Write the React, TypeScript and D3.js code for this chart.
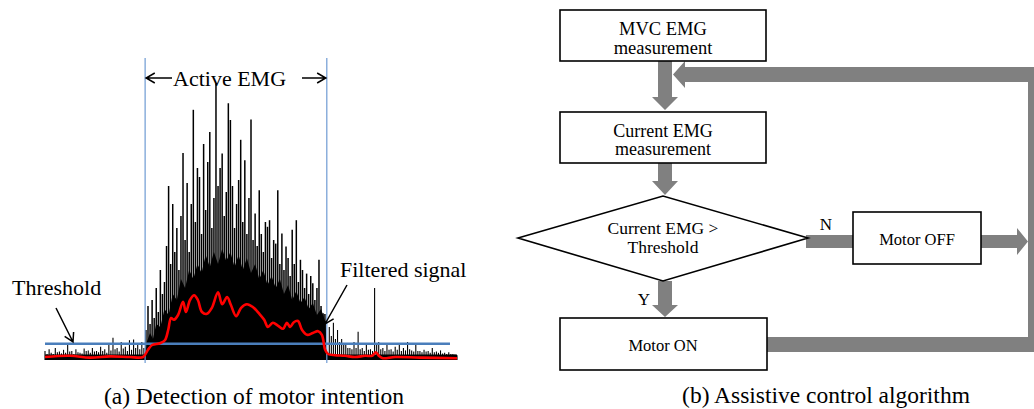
import React, { useEffect, useRef } from 'react';
import * as d3 from 'd3';

// ---------- (a) EMG recording, amplitude in arbitrary units ----------
const threshold = 0.27;
const activeOnset = 2.43; // s
const activeOffset = 6.84; // s
const noiseFloor = 0.09;

// rest EMG before contraction, t = 0.0 .. 2.4 s every 0.05 s
const restBefore = [0.15, 0.1, 0.18, 0.12, 0.1, 0.2, 0.13, 0.14, 0.11, 0.17, 0.12, 0.25, 0.14, 0.15,
  0.1, 0.18, 0.13, 0.12, 0.11, 0.19, 0.15, 0.16, 0.12, 0.2, 0.14, 0.15, 0.13, 0.22, 0.15, 0.18, 0.12,
  0.25, 0.16, 0.37, 0.18, 0.2, 0.14, 0.3, 0.19, 0.22, 0.15, 0.33, 0.17, 0.34, 0.2, 0.25, 0.18, 0.3, 0.2];
const restBeforeStart = 0;
const restStep = 0.05;

// raw EMG peaks during contraction, t = 2.45 .. 6.80 s every 0.05 s
const activePeaks = [0.5, 0.9, 0.6, 1.0, 0.7, 1.2, 0.8, 1.5, 1.1, 1.3, 1.9, 2.9, 1.6, 2.6, 1.8, 2.2,
  1.5, 2.4, 3.45, 2.0, 2.95, 1.8, 2.6, 4.17, 2.3, 3.2, 3.05, 2.1, 3.6, 2.5, 3.3, 3.8, 2.2, 2.7, 4.61,
  2.9, 3.2, 3.44, 2.4, 2.8, 4.28, 4.0, 2.9, 2.2, 2.6, 3.0, 3.67, 2.3, 3.33, 2.1, 2.7, 4.01, 2.0, 2.44,
  1.9, 2.83, 2.1, 1.8, 2.3, 2.22, 2.33, 1.7, 2.0, 1.94, 2.83, 1.6, 2.11, 1.5, 1.89, 1.7, 1.4, 2.17,
  1.6, 2.33, 1.3, 1.67, 1.5, 1.2, 1.44, 1.1, 1.4, 1.28, 1.0, 1.2, 1.67, 0.9, 0.78, 0.6];
const activeStart = 2.45;
const activeStep = 0.05;

// dense part of the raw signal during contraction [t, amp]
const activeCore: [number, number][] = [[2.43, 0], [2.47, 0.3], [2.55, 0.45], [2.62, 0.35], [2.7, 0.6],
  [2.8, 0.55], [2.9, 0.85], [3.0, 0.75], [3.1, 1.1], [3.2, 1.0], [3.3, 1.35], [3.4, 1.2], [3.5, 1.5],
  [3.6, 1.35], [3.7, 1.6], [3.8, 1.45], [3.9, 1.75], [4.0, 1.55], [4.1, 1.8], [4.2, 1.6], [4.3, 1.85],
  [4.4, 1.65], [4.5, 1.8], [4.6, 1.55], [4.7, 1.75], [4.8, 1.5], [4.9, 1.7], [5.0, 1.45], [5.1, 1.6],
  [5.2, 1.35], [5.3, 1.5], [5.4, 1.25], [5.5, 1.4], [5.6, 1.2], [5.7, 1.35], [5.8, 1.1], [5.9, 1.25],
  [6.0, 1.0], [6.1, 1.15], [6.2, 0.95], [6.3, 1.05], [6.4, 0.85], [6.5, 0.95], [6.6, 0.75], [6.7, 0.85],
  [6.8, 0.65], [6.84, 0]];

// rest EMG after contraction, t = 6.9 .. 10.0 s every 0.05 s
const restAfter = [0.55, 0.4, 0.62, 0.35, 0.5, 0.3, 0.35, 0.25, 0.25, 0.2, 0.2, 0.18, 0.3, 0.2, 0.47,
  0.18, 0.2, 0.15, 0.25, 0.17, 0.18, 0.15, 1.2, 0.25, 0.3, 0.18, 0.2, 0.15, 0.25, 0.17, 0.18, 0.14,
  0.22, 0.17, 0.28, 0.15, 0.2, 0.16, 0.3, 0.18, 0.16, 0.14, 0.25, 0.15, 0.15, 0.13, 0.17, 0.14, 0.15,
  0.12, 0.2, 0.13, 0.14, 0.12, 0.16, 0.11, 0.12, 0.1, 0.13, 0.1, 0.1, 0.09, 0.08];
const restAfterStart = 6.9;

// low-pass filtered signal [t, amp]
const filtered: [number, number][] = [[0, 0.05], [0.61, 0.07], [1.09, 0.04], [1.58, 0.06], [2.06, 0.05],
  [2.38, 0.05], [2.5, 0.17], [2.6, 0.25], [2.79, 0.28], [2.91, 0.33], [2.99, 0.5], [3.06, 0.7],
  [3.13, 0.67], [3.23, 0.75], [3.35, 0.97], [3.42, 0.8], [3.52, 1.0], [3.62, 1.08], [3.71, 1.0],
  [3.81, 0.8], [3.93, 0.77], [4.05, 0.87], [4.2, 1.13], [4.3, 0.93], [4.42, 1.05], [4.51, 0.92],
  [4.64, 0.73], [4.76, 0.87], [4.9, 0.93], [5.05, 0.88], [5.19, 0.78], [5.32, 0.67], [5.41, 0.55],
  [5.53, 0.62], [5.66, 0.57], [5.78, 0.52], [5.87, 0.62], [5.95, 0.55], [6.04, 0.63], [6.14, 0.65],
  [6.24, 0.5], [6.36, 0.42], [6.5, 0.45], [6.63, 0.48], [6.72, 0.42], [6.8, 0.17], [6.87, 0.1],
  [7.04, 0.08], [7.28, 0.07], [7.52, 0.05], [7.77, 0.07], [7.94, 0.07], [8.03, 0.13], [8.1, 0.07],
  [8.2, 0.03], [8.5, 0.05], [9.1, 0.04], [10, 0.03]];

// ---------- (b) flow chart labels ----------
const mvcLabel = ['MVC EMG', 'measurement'];
const currentLabel = ['Current EMG', 'measurement'];
const decisionLabel = ['Current EMG >', 'Threshold'];
const offLabel = 'Motor OFF';
const onLabel = 'Motor ON';
const captions = ['(a) Detection of motor intention', '(b) Assistive control algorithm'];

const SERIF = "'Liberation Serif', 'Times New Roman', serif";

export default function App() {
  const ref = useRef<SVGSVGElement>(null);

  useEffect(() => {
    const svg = d3.select(ref.current);
    svg.selectAll('*').remove();

    //----------- (a) signal panel -----------//
    const x = d3.scaleLinear().domain([0, 10]).range([45, 457]);
    const y = d3.scaleLinear().domain([0, 5]).range([360, 60]);
    const g = svg.append('g');

    // noise band under everything
    g.append('path')
      .datum([[0, noiseFloor], [10, noiseFloor]] as [number, number][])
      .attr('d', d3.area<[number, number]>().x(d => x(d[0])).y0(y(0)).y1(d => y(d[1])))
      .attr('fill', '#000');

    const rest = [
      ...restBefore.map((v, i) => [restBeforeStart + i * restStep, v]),
      ...restAfter.map((v, i) => [restAfterStart + i * restStep, v]),
    ];
    g.selectAll('line.rest')
      .data(rest)
      .join('line')
      .attr('class', 'rest')
      .attr('x1', d => x(d[0])).attr('x2', d => x(d[0]))
      .attr('y1', y(0)).attr('y2', d => y(d[1]))
      .attr('stroke', '#000')
      .attr('stroke-width', 1.1);

    g.selectAll('line.spike')
      .data(activePeaks.map((v, i) => [activeStart + i * activeStep, v]))
      .join('line')
      .attr('class', 'spike')
      .attr('x1', d => x(d[0])).attr('x2', d => x(d[0]))
      .attr('y1', y(0)).attr('y2', d => y(d[1]))
      .attr('stroke', '#000')
      .attr('stroke-width', 1.5);

    g.append('path')
      .datum(activeCore)
      .attr('d', d3.area<[number, number]>().x(d => x(d[0])).y0(y(0)).y1(d => y(d[1])))
      .attr('fill', '#000');

    // active window markers
    g.selectAll('line.marker')
      .data([activeOnset, activeOffset])
      .join('line')
      .attr('class', 'marker')
      .attr('x1', d => x(d)).attr('x2', d => x(d))
      .attr('y1', 58).attr('y2', 363)
      .attr('stroke', '#6E9BD3')
      .attr('stroke-width', 1.2);

    // threshold
    g.append('line')
      .attr('x1', x(0)).attr('x2', x(9.83))
      .attr('y1', y(threshold)).attr('y2', y(threshold))
      .attr('stroke', '#4A7EBB')
      .attr('stroke-width', 2.6);

    // filtered signal
    g.append('path')
      .datum(filtered)
      .attr('d', d3.line<[number, number]>().x(d => x(d[0])).y(d => y(d[1])).curve(d3.curveCatmullRom))
      .attr('fill', 'none')
      .attr('stroke', '#FF0000')
      .attr('stroke-width', 2.6);

    // open arrows
    const arrow = (x1: number, y1: number, x2: number, y2: number) => {
      const a = Math.atan2(y2 - y1, x2 - x1);
      const len = 10, sp = Math.PI / 6;
      g.append('path')
        .attr('d', `M${x1},${y1}L${x2},${y2}M${x2 - len * Math.cos(a - sp)},${y2 - len * Math.sin(a - sp)}L${x2},${y2}L${x2 - len * Math.cos(a + sp)},${y2 - len * Math.sin(a + sp)}`)
        .attr('fill', 'none')
        .attr('stroke', '#000')
        .attr('stroke-width', 1.5);
    };
    arrow(172, 78, x(activeOnset) + 1, 78);
    arrow(302, 78, x(activeOffset) - 1, 78);
    arrow(56, 308, 73, 342);
    arrow(347, 285, 325, 324);

    const label = (t: string, lx: number, ly: number, size: number, anchor = 'start') =>
      svg.append('text')
        .attr('x', lx).attr('y', ly)
        .attr('font-family', SERIF)
        .attr('font-size', size)
        .attr('text-anchor', anchor)
        .attr('fill', '#000')
        .text(t);

    label('Active EMG', 173, 86, 22);
    label('Threshold', 12, 295, 22);
    label('Filtered signal', 340, 277, 22);

    //----------- (b) flow chart -----------//
    const gray = '#808080';
    const fc = svg.append('g');
    const poly = (pts: number[][]) =>
      fc.append('polygon').attr('points', pts.map(p => p.join(',')).join(' ')).attr('fill', gray);
    const downArrow = (cx: number, y0: number, yBase: number, yTip: number) =>
      poly([[cx - 7, y0], [cx + 7, y0], [cx + 7, yBase], [cx + 13, yBase], [cx, yTip],
        [cx - 13, yBase], [cx - 7, yBase]]);

    downArrow(665, 61, 97, 110);
    downArrow(665, 163, 181, 195);
    downArrow(665, 281, 305, 317);
    // feedback loop
    poly([[1043, 67], [685, 67], [685, 61], [673, 74.5], [685, 88], [685, 82], [1043, 82]]);
    poly([[1028, 67], [1043, 67], [1043, 352], [1028, 352]]);
    poly([[767, 337], [1043, 337], [1043, 352], [767, 352]]);
    // N branch
    poly([[806, 235], [853, 235], [853, 248], [806, 248]]);
    poly([[981, 235], [1017, 235], [1017, 228], [1028, 241.5], [1017, 255], [1017, 248], [981, 248]]);

    const box = (x0: number, y0: number, x1: number, y1: number) =>
      fc.append('rect').attr('x', x0).attr('y', y0).attr('width', x1 - x0).attr('height', y1 - y0)
        .attr('fill', '#fff').attr('stroke', '#000').attr('stroke-width', 1.6);

    box(560, 10, 766, 61);
    box(560, 112, 766, 163);
    box(853, 212, 981, 264);
    box(560, 318, 767, 370);
    fc.append('polygon')
      .attr('points', '518,238 663,196 808,238 663,281')
      .attr('fill', '#fff').attr('stroke', '#000').attr('stroke-width', 1.6);

    label(mvcLabel[0], 663, 35, 18.5, 'middle');
    label(mvcLabel[1], 663, 54, 18.5, 'middle');
    label(currentLabel[0], 663, 137, 18, 'middle');
    label(currentLabel[1], 663, 155, 18, 'middle');
    label(decisionLabel[0], 663, 234, 17.5, 'middle');
    label(decisionLabel[1], 663, 253, 17.5, 'middle');
    label(offLabel, 917, 245, 16.5, 'middle');
    label(onLabel, 663, 351, 16.5, 'middle');
    label('N', 826, 230, 17, 'middle');
    label('Y', 644, 305, 17, 'middle');

    label(captions[0], 254, 404, 23.5, 'middle');
    label(captions[1], 826, 403, 23.5, 'middle');
  }, []);

  return (
    <svg ref={ref} width={1034} height={409}
      style={{ position: 'absolute', left: 0, top: 0, background: '#fff' }} />
  );
}
